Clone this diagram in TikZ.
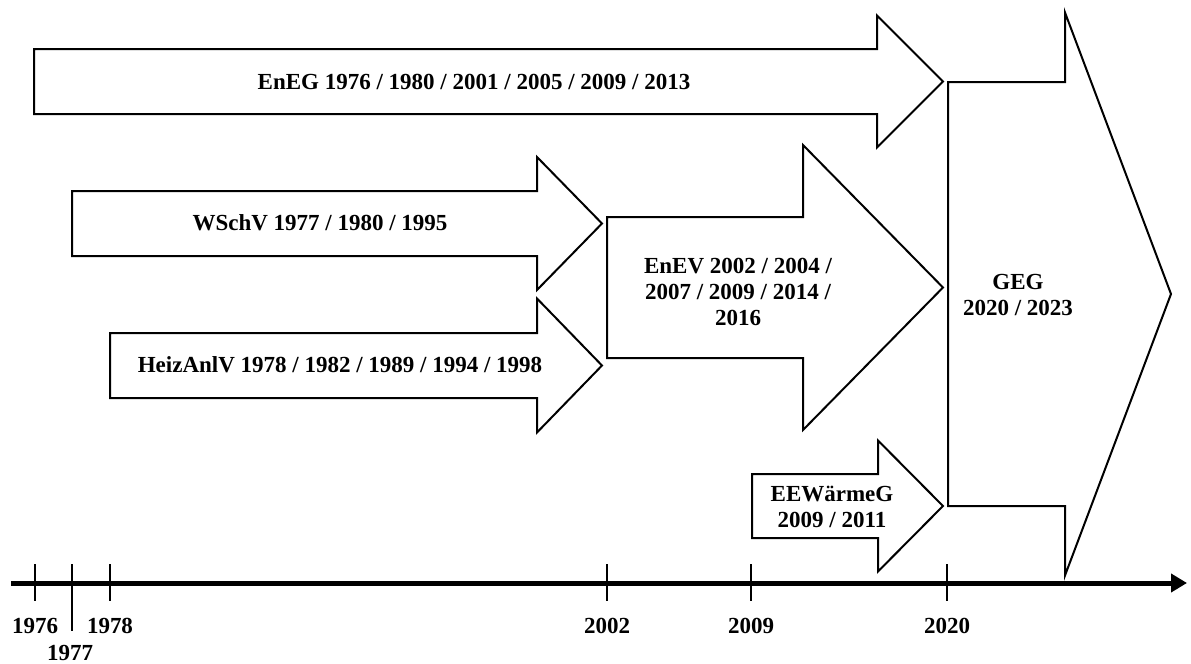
\documentclass[tikz,border=0pt]{standalone}
\usepackage{fontspec}
\setmainfont{Liberation Serif}
\usetikzlibrary{arrows.meta}

% arrow outline: left x, head x, tip x, mid y, half body, half head
\newcommand{\lawarrow}[6]{%
  \draw[lawshape] (#1,#4-#5) -- (#2,#4-#5) -- (#2,#4-#6) -- (#3,#4)
    -- (#2,#4+#6) -- (#2,#4+#5) -- (#1,#4+#5) -- cycle;}

\tikzset{
  lawshape/.style={draw=black, fill=white, line width=1pt, line join=miter},
  lawtext/.style={font=\fontsize{11.5}{13}\selectfont\bfseries, align=center, inner sep=0pt},
  yeartext/.style={font=\fontsize{11.5}{13}\selectfont\bfseries, inner sep=0pt},
  axisline/.style={line width=2.5pt, -{Triangle[length=8pt,width=9pt]}},
  tickline/.style={line width=0.8pt}
}

\begin{document}
\begin{tikzpicture}[x=0.5pt,y=-0.5pt]
\useasboundingbox (0,0) rectangle (1191,664);

% arrows
\lawarrow{34}{877}{943}{81.5}{32.5}{66}
\lawarrow{72}{537}{602}{223.5}{32.5}{66.5}
\lawarrow{110}{537}{602}{365.5}{32.5}{67}
\lawarrow{607}{803}{943}{287.5}{70.5}{142.5}
\lawarrow{752}{878}{943}{506}{32}{65.5}
\lawarrow{948}{1065}{1171}{294}{212}{281.5}

\node[lawtext] (eneg) at (474,82) {EnEG 1976 / 1980 / 2001 / 2005 / 2009 / 2013};
\node[lawtext] (wschv) at (320,223) {WSchV 1977 / 1980 / 1995};
\node[lawtext] (heizanlv) at (340,365) {HeizAnlV 1978 / 1982 / 1989 / 1994 / 1998};
\node[lawtext] (enev) at (738,292) {EnEV 2002 / 2004 /\\2007 / 2009 / 2014 /\\2016};
\node[lawtext] (eewaermeg) at (832,507) {EEWärmeG\\2009 / 2011};
\node[lawtext] (geg) at (1018,295) {GEG\\2020 / 2023};

% time axis
\coordinate (axstart) at (11,583);
\coordinate (axend) at (1187,583);
\draw[axisline] (axstart) -- (axend);

\foreach \x/\yr in {35/1976,110/1978,607/2002,751/2009,947/2020}{
  \draw[tickline] (\x,564) -- (\x,601);
  \node[yeartext] (y\yr) at (\x,626) {\yr};
}
\draw[tickline] (72,564) -- (72,631);
\node[yeartext] (y1977) at (70,653) {1977};

\end{tikzpicture}
\end{document}
